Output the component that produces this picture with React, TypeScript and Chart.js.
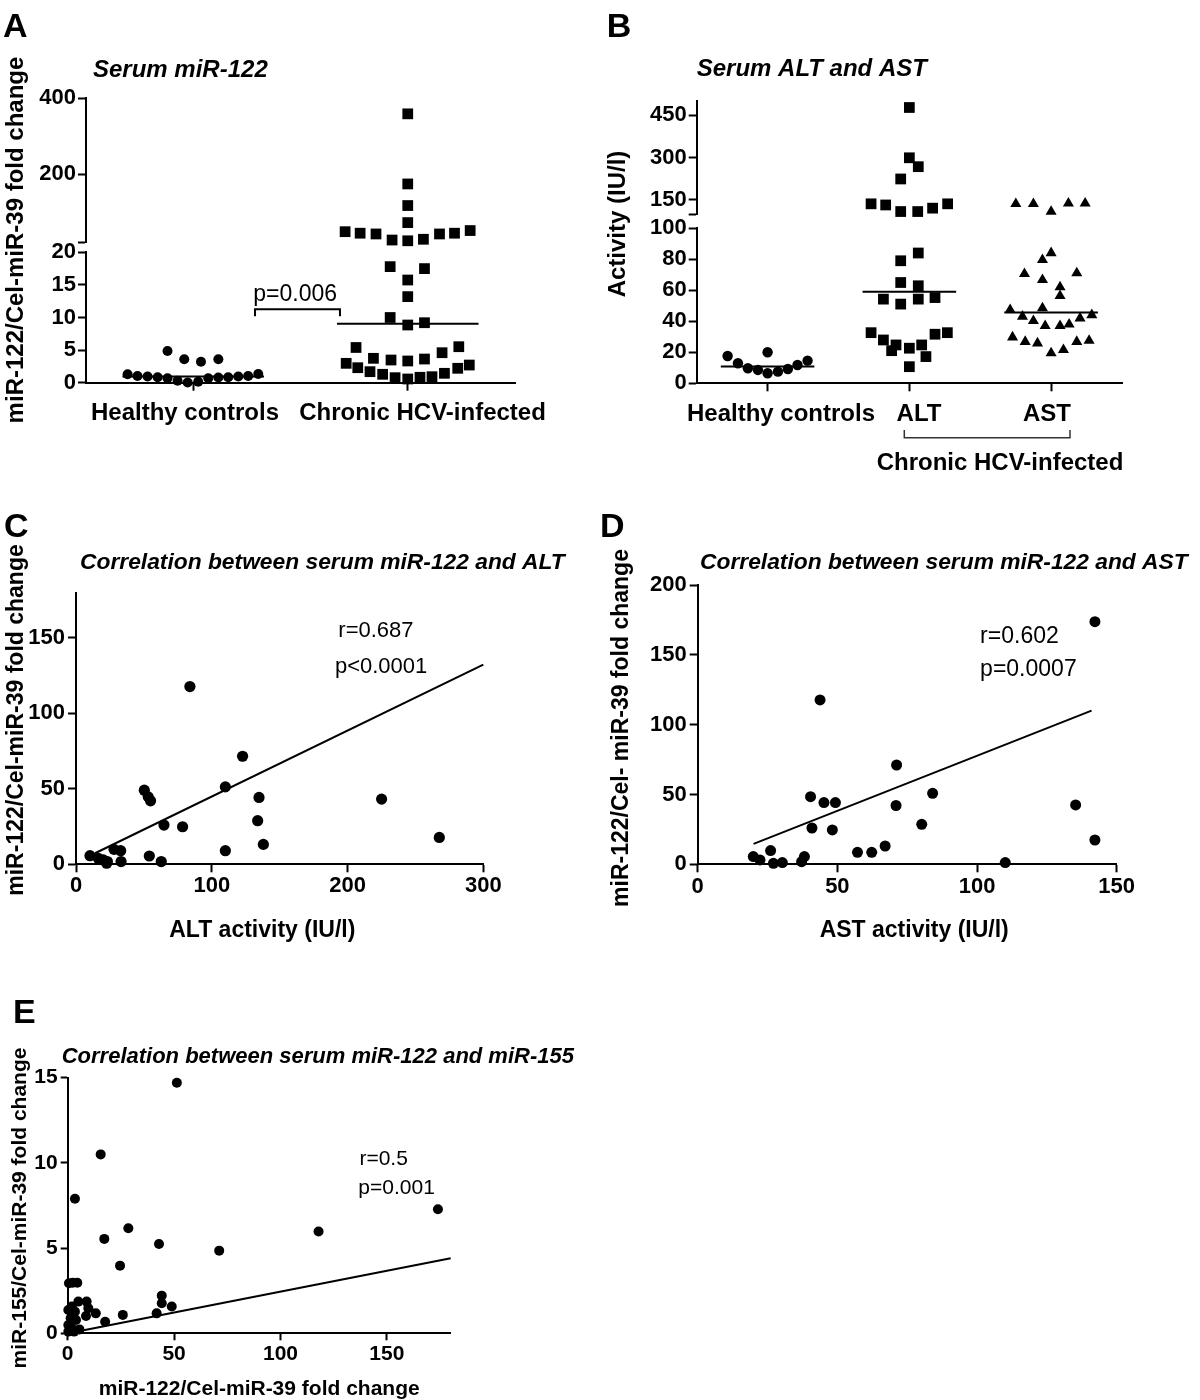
import React, { useEffect, useRef } from 'react';
import { Chart, registerables } from 'chart.js';

Chart.register(...registerables);

const FONT = '"Liberation Sans", Arial, Helvetica, sans-serif';
const BLACK = '#000000';

// ================= Panel A : Serum miR-122 =================
const A_CATEGORIES = ['Healthy controls', 'Chronic HCV-infected'];
const A_HEALTHY = [1.29, 1.03, 0.95, 0.83, 0.67, 0.31, 0.02, 0.15, 0.67, 0.8, 0.83, 0.95, 1.03, 1.33, 4.86, 3.59, 3.22, 3.59];
const A_HEALTHY_SPREAD = [-0.306, -0.26, -0.213, -0.166, -0.12, -0.073, -0.026, 0.023, 0.07, 0.117, 0.163, 0.21, 0.256, 0.303, -0.12, -0.042, 0.036, 0.117];
const A_CHRONIC = [359, 174, 117, 72, 48, 44, 42, 26, 24, 28, 42, 44, 51,
  17.8, 17.5, 15.75, 13.2, 10.0, 8.85, 9.2, 5.4, 3.74, 3.48, 3.33, 3.63, 4.6, 5.52,
  2.97, 2.3, 1.69, 1.29, 0.77, 0.57, 0.83, 0.92, 1.44, 2.21, 2.71];
const A_CHRONIC_SPREAD = [0, 0, 0, 0, -0.292, -0.222, -0.148, -0.073, 0, 0.073, 0.148, 0.218, 0.291,
  -0.082, 0.078, 0, 0, -0.082, 0, 0.078, -0.241, -0.16, -0.078, 0, 0.078, 0.16, 0.238,
  -0.287, -0.233, -0.176, -0.117, -0.059, 0, 0.057, 0.113, 0.171, 0.233, 0.287];
const A_BREAK = 20;
const A_LOW_RANGE = [0, 20];
const A_HIGH_RANGE = [20, 400];
const A_LOW_TICKS = [0, 5, 10, 15, 20];
const A_HIGH_TICKS = [20, 200, 400];
const A_P_LABEL = 'p=0.006';
const A_P_LABEL_AT = [0.78, 13.45];
const A_P_BRACKET_X = [0.788, 1.184];
const A_P_BRACKET_Y = [10.2, 11.26];

// ================= Panel B : Serum ALT and AST =================
const B_CATEGORIES = ['Healthy controls', 'ALT', 'AST'];
const B_GROUP_LABEL = 'Chronic HCV-infected';
const B_HEALTHY = [17.6, 12.9, 9.7, 8.6, 6.5, 7.5, 9.2, 11.8, 14.6, 20];
const B_HEALTHY_SPREAD = [-0.282, -0.209, -0.139, -0.068, 0, 0.073, 0.143, 0.211, 0.282, 0];
const B_ALT = [477, 299, 267.5, 224, 136, 132, 108.7, 108.7, 120.7, 136,
  83.9, 78.9, 64.9, 62.8, 54.2, 51.0, 54.2, 55.2, 32.6, 27.9, 24.7, 21.0, 22.6, 24.7, 31.6, 32.6, 17.2, 10.7];
const B_ALT_SPREAD = [0, 0, 0.063, -0.061, -0.27, -0.167, -0.061, 0.059, 0.164, 0.27,
  0.063, -0.061, -0.061, 0.063, -0.183, -0.061, 0.063, 0.181, -0.27, -0.183, -0.094, -0.125, 0, 0.087, 0.181, 0.268, 0.117, 0];
const B_AST = [136, 136, 108.7, 137.5, 137.5,
  83.9, 79.5, 70.5, 66.6, 71, 61.9, 56.3, 48.4, 47.3, 43, 40.2, 37, 37, 38, 41.9, 44, 29.7, 26.8, 25.8, 19.4, 21.5, 26.8, 27.5];
const B_AST_SPREAD = [-0.249, -0.125, 0, 0.122, 0.24,
  0, -0.061, -0.188, -0.061, 0.181, 0.063, 0.063, -0.061, -0.289, -0.202, -0.125, -0.042, 0.063, 0.127, 0.204, 0.287, -0.272, -0.183, -0.096, 0, 0.087, 0.181, 0.268];
const B_BREAK = 100;
const B_LOW_RANGE = [0, 100];
const B_HIGH_RANGE = [100, 500];
const B_LOW_TICKS = [0, 20, 40, 60, 80, 100];
const B_HIGH_TICKS = [100, 150, 300, 450];

// ================= Panel C : miR-122 vs ALT =================
const C_X = [83.9, 122.7, 110, 50.3, 53.2, 54.9, 134.8, 225.1, 133.8, 64.8, 78.5, 138, 267.6, 110, 10.3, 28, 32.9, 16.4, 20.1, 23.1, 22.6, 33.2, 54, 62.8];
const C_Y = [117.8, 71.6, 51.3, 49.1, 44.7, 42.1, 44.3, 43.2, 28.9, 26, 24.9, 13.2, 17.8, 9, 5.7, 9.9, 9, 4, 2.9, 1.8, 0.7, 1.8, 5.5, 1.8];
const C_X_TICKS = [0, 100, 200, 300];
const C_Y_TICKS = [0, 50, 100, 150];
const C_X_RANGE = [0, 300];
const C_Y_RANGE = [0, 180];
const C_FIT_SLOPE = 0.437;
const C_FIT_INTERCEPT = 1.2;
const C_FIT_RANGE = [14, 300];
const C_STATS = ['r=0.687', 'p<0.0001'];

// ================= Panel D : miR-122 vs AST =================
const D_X = [43.8, 71.2, 40.4, 45.2, 49.3, 84.1, 71, 40.9, 48.2, 80.2, 67.1, 57.2, 62.3, 19.9, 22.3, 26.1, 27.1, 30.3, 37.2, 38.2, 110.1, 142.2, 135.3, 142.2];
const D_Y = [117.7, 71.1, 48.4, 44.2, 44.2, 50.8, 42.1, 26, 24.6, 28.6, 13.1, 8.6, 8.6, 5.5, 3.1, 9.8, 0.7, 1.2, 1.9, 5.5, 1.2, 173.7, 42.5, 17.4];
const D_X_TICKS = [0, 50, 100, 150];
const D_Y_TICKS = [0, 50, 100, 150, 200];
const D_X_RANGE = [0, 150];
const D_Y_RANGE = [0, 200];
const D_FIT_SLOPE = 0.789;
const D_FIT_INTERCEPT = -1.17;
const D_FIT_RANGE = [20, 141];
const D_STATS = ['r=0.602', 'p=0.0007'];

// ================= Panel E : miR-122 vs miR-155 =================
const E_X = [51.3, 15.5, 3.4, 174, 117.9, 28.5, 17.2, 42.9, 71.2, 24.6, 0.6, 2.4, 4.5, 44.2, 44.2, 48.9, 41.8, 25.9, 17.6, 13.2, 8.9, 9.7, 8.6, 5, 1.9, 0.3, 3.4, 1.4, 3.9, 0.3, 1.9, 5.5, 0.3, 3];
const E_Y = [14.7, 10.5, 7.9, 7.28, 5.97, 6.16, 5.54, 5.24, 4.85, 3.97, 2.94, 2.97, 2.97, 2.21, 1.76, 1.57, 1.17, 1.08, 0.68, 1.17, 1.86, 1.47, 1.02, 1.86, 1.57, 1.37, 1.27, 0.88, 0.78, 0.49, 0.29, 0.23, 0.1, 0.1];
const E_X_TICKS = [0, 50, 100, 150];
const E_Y_TICKS = [0, 5, 10, 15];
const E_X_RANGE = [0, 180];
const E_Y_RANGE = [0, 15];
const E_FIT_SLOPE = 0.0245;
const E_FIT_INTERCEPT = 0;
const E_FIT_RANGE = [0.3, 180];
const E_STATS = ['r=0.5', 'p=0.001'];

// ================= helpers =================
const MEDIAN_HALF = 0.33;
const fBold = (s: number) => `bold ${s}px ${FONT}`;
const fItBold = (s: number) => `italic bold ${s}px ${FONT}`;
const fReg = (s: number) => `${s}px ${FONT}`;
const tickFont = (size: number, weight: any = 'bold') => ({ family: FONT, size, weight, style: 'normal', lineHeight: 1.2 });
const tickMarks = (len: number) => ({ display: true, drawOnChartArea: false, drawTicks: true, tickLength: len, tickWidth: 2, tickColor: BLACK });
const axisBorder = { display: true, width: 2, color: BLACK };
const setTicks = (vals: number[]) => (s: any) => { s.ticks = vals.map((v) => ({ value: v })); };
const fixW = (w: number) => (s: any) => { s.width = w; };
const fixH = (h: number) => (s: any) => { s.height = h; };
const ROT = -Math.PI / 2;

function median(vals: number[]) {
  const s = [...vals].sort((a, b) => a - b);
  const n = s.length;
  return n % 2 ? s[(n - 1) / 2] : (s[n / 2 - 1] + s[n / 2]) / 2;
}

function splitByBreak(vals: number[], spread: number[], center: number, brk: number) {
  const low: any[] = [];
  const high: any[] = [];
  vals.forEach((v, i) => (v > brk ? high : low).push({ x: center + spread[i], y: v }));
  return { low, high };
}

function pts(data: any[], yAxisID: string, style: string, radius: number) {
  return {
    data, yAxisID, xAxisID: 'x', showLine: false, clip: false,
    pointStyle: style, pointRadius: radius, pointHoverRadius: radius,
    pointBackgroundColor: BLACK, pointBorderColor: BLACK, pointBorderWidth: 0,
  };
}

function seg(data: any[], yAxisID: string, width = 2) {
  return {
    data, yAxisID, xAxisID: 'x', showLine: true, clip: false, fill: false, tension: 0,
    borderColor: BLACK, borderWidth: width, pointRadius: 0, pointHoverRadius: 0,
  };
}

function overlay(origin: number[], texts: any[], lines: any[] = []) {
  return {
    id: 'overlay',
    afterDraw(chart: any) {
      const ctx = chart.ctx;
      ctx.save();
      for (const ln of lines) {
        ctx.beginPath();
        ctx.lineWidth = ln.width;
        ctx.strokeStyle = ln.color;
        ln.pts.forEach((p: number[], i: number) => {
          const x = p[0] - origin[0];
          const y = p[1] - origin[1];
          if (i) ctx.lineTo(x, y); else ctx.moveTo(x, y);
        });
        ctx.stroke();
      }
      for (const t of texts) {
        let x = t.x - origin[0];
        let y = t.y - origin[1];
        if (t.axes) {
          x = chart.scales[t.axes[0]].getPixelForValue(t.x);
          y = chart.scales[t.axes[1]].getPixelForValue(t.y);
        }
        ctx.save();
        ctx.translate(x, y);
        if (t.rotate) ctx.rotate(t.rotate);
        ctx.font = t.font;
        ctx.fillStyle = BLACK;
        ctx.textAlign = t.align || 'left';
        ctx.textBaseline = t.baseline || 'alphabetic';
        ctx.fillText(t.text, 0, 0);
        ctx.restore();
      }
      ctx.restore();
    },
  };
}

function baseOptions(padding: any, scales: any) {
  return {
    responsive: false,
    maintainAspectRatio: false,
    animation: false,
    events: [],
    layout: { padding },
    plugins: { legend: { display: false }, tooltip: { enabled: false }, title: { display: false } },
    scales,
  };
}

// Category x-axis: ticks at category centres; the category names are placed by the overlay
function categoryX(cats: string[]) {
  return {
    type: 'linear', axis: 'x', position: 'bottom', min: 0, max: cats.length,
    afterBuildTicks: setTicks(cats.map((_, i) => i + 0.5)),
    ticks: { display: false, autoSkip: false },
    grid: tickMarks(8), border: axisBorder, afterFit: fixH(50),
  };
}

function brokenY(yW: number, low: number[], high: number[], lowTicks: number[], highTicks: number[], brk: number, weights: number[]) {
  const common = { type: 'linear', axis: 'y', position: 'left', stack: 'brk', afterFit: fixW(yW) };
  return {
    yLow: { ...common, stackWeight: weights[0], min: low[0], max: low[1], afterBuildTicks: setTicks(lowTicks),
      ticks: { font: tickFont(22), color: BLACK, padding: 2, autoSkip: false }, grid: tickMarks(8), border: axisBorder },
    yGap: { ...common, stackWeight: weights[1], min: 0, max: 1, ticks: { display: false },
      grid: { display: false }, border: { display: false } },
    yHigh: { ...common, stackWeight: weights[2], min: high[0], max: high[1], afterBuildTicks: setTicks(highTicks),
      ticks: { font: tickFont(22), color: BLACK, padding: 2, autoSkip: false, callback: (v: number) => (v === brk ? '' : String(v)) },
      grid: tickMarks(8), border: axisBorder },
  };
}

// ================= chart factories =================
const RECT_A = [0, 0, 590, 440];
const RECT_B = [590, 0, 610, 480];
const RECT_C = [0, 500, 590, 450];
const RECT_D = [590, 500, 610, 450];
const RECT_E = [0, 980, 600, 420];

function makeA() {
  const H = splitByBreak(A_HEALTHY, A_HEALTHY_SPREAD, 0.5, A_BREAK);
  const C = splitByBreak(A_CHRONIC, A_CHRONIC_SPREAD, 1.5, A_BREAK);
  const mH = median(A_HEALTHY);
  const mC = median(A_CHRONIC);
  const axisOf = (v: number) => (v > A_BREAK ? 'yHigh' : 'yLow');
  const datasets = [
    pts(H.low, 'yLow', 'circle', 5), pts(H.high, 'yHigh', 'circle', 5),
    pts(C.low, 'yLow', 'rect', 7.6), pts(C.high, 'yHigh', 'rect', 7.6),
    seg([{ x: 0.5 - MEDIAN_HALF, y: mH }, { x: 0.5 + MEDIAN_HALF, y: mH }], axisOf(mH)),
    seg([{ x: 1.5 - MEDIAN_HALF, y: mC }, { x: 1.5 + MEDIAN_HALF, y: mC }], axisOf(mC)),
    seg([
      { x: A_P_BRACKET_X[0], y: A_P_BRACKET_Y[0] }, { x: A_P_BRACKET_X[0], y: A_P_BRACKET_Y[1] },
      { x: A_P_BRACKET_X[1], y: A_P_BRACKET_Y[1] }, { x: A_P_BRACKET_X[1], y: A_P_BRACKET_Y[0] },
    ], 'yLow'),
  ];
  const scales = {
    x: categoryX(A_CATEGORIES),
    ...brokenY(86, A_LOW_RANGE, A_HIGH_RANGE, A_LOW_TICKS, A_HIGH_TICKS, A_BREAK, [130.4, 10, 144]),
  };
  const origin = [RECT_A[0], RECT_A[1]];
  const catX = [185, 422.5];
  return {
    type: 'scatter',
    data: { datasets },
    options: baseOptions({ left: 0, top: 98.3, right: 75, bottom: 7.3 }, scales),
    plugins: [overlay(origin, [
      { text: 'A', x: 3, y: 36.7, font: fBold(34) },
      { text: 'Serum miR-122', x: 93, y: 76.7, font: fItBold(24) },
      { text: 'miR-122/Cel-miR-39 fold change', x: 16.5, y: 240, font: fBold(24), rotate: ROT, align: 'center', baseline: 'middle' },
      { text: A_P_LABEL, x: A_P_LABEL_AT[0], y: A_P_LABEL_AT[1], axes: ['x', 'yLow'], font: fReg(23), baseline: 'middle' },
      ...A_CATEGORIES.map((c, i) => ({ text: c, x: catX[i], y: 420, font: fBold(24), align: 'center' })),
    ])],
  };
}

function makeB() {
  const H = splitByBreak(B_HEALTHY, B_HEALTHY_SPREAD, 0.5, B_BREAK);
  const L = splitByBreak(B_ALT, B_ALT_SPREAD, 1.5, B_BREAK);
  const S = splitByBreak(B_AST, B_AST_SPREAD, 2.5, B_BREAK);
  const axisOf = (v: number) => (v > B_BREAK ? 'yHigh' : 'yLow');
  const meds = [median(B_HEALTHY), median(B_ALT), median(B_AST)];
  const datasets: any[] = [
    pts(H.low, 'yLow', 'circle', 5.2), pts(H.high, 'yHigh', 'circle', 5.2),
    pts(L.low, 'yLow', 'rect', 7.6), pts(L.high, 'yHigh', 'rect', 7.6),
    pts(S.low, 'yLow', 'triangle', 6.4), pts(S.high, 'yHigh', 'triangle', 6.4),
  ];
  meds.forEach((m, i) => datasets.push(seg([{ x: i + 0.5 - MEDIAN_HALF, y: m }, { x: i + 0.5 + MEDIAN_HALF, y: m }], axisOf(m))));
  const scales = {
    x: categoryX(B_CATEGORIES),
    ...brokenY(106.7, B_LOW_RANGE, B_HIGH_RANGE, B_LOW_TICKS, B_HIGH_TICKS, B_BREAK, [155.3, 14, 113]),
  };
  const origin = [RECT_B[0], RECT_B[1]];
  const catX = [781, 919, 1047];
  return {
    type: 'scatter',
    data: { datasets },
    options: baseOptions({ left: 0, top: 101, right: 78, bottom: 46.7 }, scales),
    plugins: [overlay(origin, [
      { text: 'B', x: 606.7, y: 37.3, font: fBold(34) },
      { text: 'Serum ALT and AST', x: 696.7, y: 76, font: fItBold(24) },
      { text: 'Activity (IU/l)', x: 618, y: 224, font: fBold(24), rotate: ROT, align: 'center', baseline: 'middle' },
      ...B_CATEGORIES.map((c, i) => ({ text: c, x: catX[i], y: 421, font: fBold(24), align: 'center' })),
      { text: B_GROUP_LABEL, x: 1000, y: 470, font: fBold(24), align: 'center' },
    ], [
      { pts: [[904.3, 430], [904.3, 437.7], [1070, 437.7], [1070, 430]], width: 1.5, color: '#333333' },
    ])],
  };
}

function makeCorr(o: any) {
  const data = o.xs.map((x: number, i: number) => ({ x, y: o.ys[i] }));
  const fit = o.fitRange.map((x: number) => ({ x, y: o.slope * x + o.intercept }));
  const scales = {
    x: { type: 'linear', position: 'bottom', min: o.xRange[0], max: o.xRange[1], afterBuildTicks: setTicks(o.xTicks),
      ticks: { font: tickFont(o.tickSize), color: BLACK, padding: o.xPad, autoSkip: false, maxRotation: 0, minRotation: 0 },
      grid: tickMarks(o.tickLen), border: axisBorder, afterFit: fixH(50) },
    y: { type: 'linear', position: 'left', min: o.yRange[0], max: o.yRange[1], afterBuildTicks: setTicks(o.yTicks),
      ticks: { font: tickFont(o.tickSize), color: BLACK, padding: 3, autoSkip: false },
      grid: tickMarks(o.tickLen), border: axisBorder, afterFit: fixW(o.yW) },
  };
  return {
    type: 'scatter',
    data: { datasets: [pts(data, 'y', 'circle', o.radius), seg(fit, 'y')] },
    options: baseOptions(o.padding, scales),
    plugins: [overlay(o.origin, o.texts)],
  };
}

function makeC() {
  return makeCorr({
    xs: C_X, ys: C_Y, xRange: C_X_RANGE, yRange: C_Y_RANGE, xTicks: C_X_TICKS, yTicks: C_Y_TICKS,
    slope: C_FIT_SLOPE, intercept: C_FIT_INTERCEPT, fitRange: C_FIT_RANGE, radius: 5.6, tickLen: 8, xPad: 0, tickSize: 22,
    yW: 76, padding: { left: 0, top: 92.7, right: 106.7, bottom: 35.7 }, origin: [RECT_C[0], RECT_C[1]],
    texts: [
      { text: 'C', x: 4, y: 537, font: fBold(34) },
      { text: 'Correlation between serum miR-122 and ALT', x: 80, y: 569, font: fItBold(22.8) },
      { text: 'miR-122/Cel-miR-39 fold change', x: 16.5, y: 720, font: fBold(23), rotate: ROT, align: 'center', baseline: 'middle' },
      { text: 'ALT activity (IU/l)', x: 262.3, y: 937.3, font: fBold(23), align: 'center' },
      { text: C_STATS[0], x: 193.2, y: 154.9, axes: ['x', 'y'], font: fReg(22), baseline: 'middle' },
      { text: C_STATS[1], x: 190.7, y: 130.6, axes: ['x', 'y'], font: fReg(22), baseline: 'middle' },
    ],
  });
}

function makeD() {
  return makeCorr({
    xs: D_X, ys: D_Y, xRange: D_X_RANGE, yRange: D_Y_RANGE, xTicks: D_X_TICKS, yTicks: D_Y_TICKS,
    slope: D_FIT_SLOPE, intercept: D_FIT_INTERCEPT, fitRange: D_FIT_RANGE, radius: 5.5, tickLen: 8, xPad: 1, tickSize: 22,
    yW: 107.7, padding: { left: 0, top: 85, right: 83.3, bottom: 35.7 }, origin: [RECT_D[0], RECT_D[1]],
    texts: [
      { text: 'D', x: 600, y: 537, font: fBold(34) },
      { text: 'Correlation between serum miR-122 and AST', x: 700, y: 569, font: fItBold(22.8) },
      { text: 'miR-122/Cel- miR-39 fold change', x: 622, y: 728, font: fBold(23), rotate: ROT, align: 'center', baseline: 'middle' },
      { text: 'AST activity (IU/l)', x: 914.2, y: 937.3, font: fBold(23), align: 'center' },
      { text: D_STATS[0], x: 101.1, y: 163, axes: ['x', 'y'], font: fReg(23), baseline: 'middle' },
      { text: D_STATS[1], x: 101.1, y: 139.6, axes: ['x', 'y'], font: fReg(23), baseline: 'middle' },
    ],
  });
}

function makeE() {
  return makeCorr({
    xs: E_X, ys: E_Y, xRange: E_X_RANGE, yRange: E_Y_RANGE, xTicks: E_X_TICKS, yTicks: E_Y_TICKS,
    slope: E_FIT_SLOPE, intercept: E_FIT_INTERCEPT, fitRange: E_FIT_RANGE, radius: 5, tickLen: 7, xPad: 1, tickSize: 21,
    yW: 67.7, padding: { left: 0, top: 97.7, right: 149.3, bottom: 16.7 }, origin: [RECT_E[0], RECT_E[1]],
    texts: [
      { text: 'E', x: 13, y: 1023, font: fBold(34) },
      { text: 'Correlation between serum miR-122 and miR-155', x: 61.7, y: 1063.3, font: fItBold(22) },
      { text: 'miR-155/Cel-miR-39 fold change', x: 20.5, y: 1208, font: fBold(21), rotate: ROT, align: 'center', baseline: 'middle' },
      { text: 'miR-122/Cel-miR-39 fold change', x: 259.2, y: 1395, font: fBold(21), align: 'center' },
      { text: E_STATS[0], x: 137.1, y: 10.2, axes: ['x', 'y'], font: fReg(21), baseline: 'middle' },
      { text: E_STATS[1], x: 136.6, y: 8.5, axes: ['x', 'y'], font: fReg(21), baseline: 'middle' },
    ],
  });
}

function Panel({ rect, make }: { rect: number[]; make: () => any }) {
  const ref = useRef<HTMLCanvasElement>(null);
  useEffect(() => {
    const chart = new Chart(ref.current as HTMLCanvasElement, make());
    return () => chart.destroy();
  }, []);
  const [l, t, w, h] = rect;
  return (
    <canvas ref={ref} width={w} height={h}
      style={{ position: 'absolute', left: l, top: t, width: w, height: h, display: 'block' }} />
  );
}

export default function App() {
  return (
    <div style={{ position: 'absolute', left: 0, top: 0, width: 1200, height: 1400, background: '#ffffff', overflow: 'hidden' }}>
      <Panel rect={RECT_A} make={makeA} />
      <Panel rect={RECT_B} make={makeB} />
      <Panel rect={RECT_C} make={makeC} />
      <Panel rect={RECT_D} make={makeD} />
      <Panel rect={RECT_E} make={makeE} />
    </div>
  );
}
